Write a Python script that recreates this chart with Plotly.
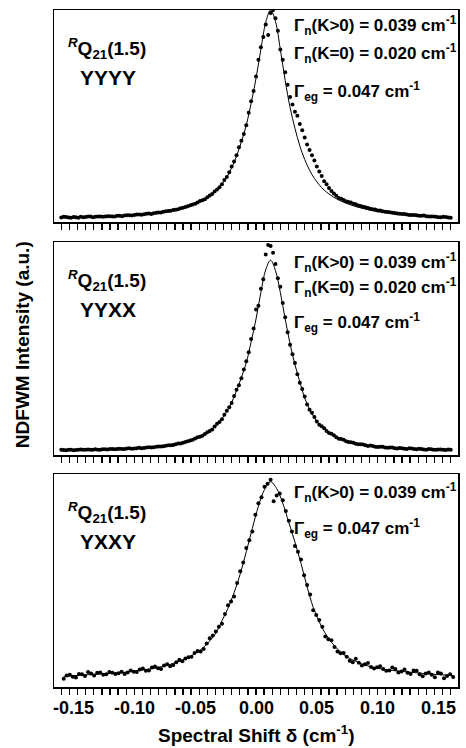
import plotly.graph_objects as go

# ---------------- data ----------------
# fit curves (panels 1 & 2 share the shift grid)
shift_fit12 = [-0.160, -0.156, -0.152, -0.148, -0.144, -0.140, -0.136, -0.132, -0.128, -0.124,
               -0.120, -0.116, -0.112, -0.108, -0.104, -0.100, -0.096, -0.092, -0.088, -0.084,
               -0.080, -0.076, -0.072, -0.068, -0.064, -0.060, -0.056, -0.052, -0.048, -0.044,
               -0.040, -0.036, -0.032, -0.028, -0.024, -0.020, -0.016, -0.012, -0.008, -0.004,
               0.000, 0.004, 0.008, 0.012, 0.016, 0.020, 0.024, 0.028, 0.032, 0.036,
               0.040, 0.044, 0.048, 0.052, 0.056, 0.060, 0.064, 0.068, 0.072, 0.076,
               0.080, 0.084, 0.088, 0.092, 0.096, 0.100, 0.104, 0.108, 0.112, 0.116,
               0.120, 0.124, 0.128, 0.132, 0.136, 0.140, 0.144, 0.148, 0.152, 0.156, 0.160]
yyyy_fit = [0.000, 0.000, 0.001, 0.001, 0.002, 0.002, 0.003, 0.003, 0.004, 0.005,
            0.006, 0.007, 0.008, 0.009, 0.011, 0.012, 0.014, 0.016, 0.019, 0.021,
            0.024, 0.027, 0.031, 0.035, 0.040, 0.046, 0.053, 0.061, 0.071, 0.082,
            0.096, 0.113, 0.134, 0.160, 0.193, 0.240, 0.295, 0.365, 0.445, 0.550,
            0.670, 0.810, 0.940, 1.000, 0.945, 0.810, 0.660, 0.530, 0.430, 0.345,
            0.280, 0.228, 0.188, 0.157, 0.132, 0.113, 0.097, 0.084, 0.073, 0.064,
            0.056, 0.049, 0.043, 0.037, 0.032, 0.028, 0.025, 0.022, 0.019, 0.016,
            0.014, 0.012, 0.010, 0.009, 0.007, 0.006, 0.005, 0.004, 0.003, 0.002, 0.001]
yyxx_fit = [0.000, 0.000, 0.000, 0.001, 0.001, 0.001, 0.002, 0.002, 0.003, 0.003,
            0.004, 0.005, 0.006, 0.007, 0.008, 0.009, 0.011, 0.012, 0.014, 0.016,
            0.018, 0.021, 0.024, 0.028, 0.033, 0.039, 0.046, 0.055, 0.065, 0.077,
            0.092, 0.111, 0.135, 0.165, 0.203, 0.252, 0.312, 0.383, 0.460, 0.570,
            0.690, 0.830, 0.950, 1.000, 0.945, 0.830, 0.690, 0.560, 0.450, 0.360,
            0.275, 0.215, 0.170, 0.137, 0.112, 0.092, 0.076, 0.062, 0.052, 0.044,
            0.037, 0.032, 0.028, 0.024, 0.021, 0.018, 0.016, 0.014, 0.012, 0.010,
            0.009, 0.008, 0.007, 0.006, 0.005, 0.004, 0.003, 0.003, 0.002, 0.001, 0.001]

# measured points, panels 1 & 2: two interleaved sets of shifts
shift_a12 = shift_fit12
shift_b12 = [-0.158, -0.154, -0.150, -0.146, -0.142, -0.138, -0.134, -0.130, -0.126, -0.122,
             -0.118, -0.114, -0.110, -0.106, -0.102, -0.098, -0.094, -0.090, -0.086, -0.082,
             -0.078, -0.074, -0.070, -0.066, -0.062, -0.058, -0.054, -0.050, -0.046, -0.042,
             -0.038, -0.034, -0.030, -0.026, -0.022, -0.018, -0.014, -0.010, -0.006, -0.002,
             0.002, 0.006, 0.010, 0.014, 0.018, 0.022, 0.026, 0.030, 0.034, 0.038,
             0.042, 0.046, 0.050, 0.054, 0.058, 0.062, 0.066, 0.070, 0.074, 0.078,
             0.082, 0.086, 0.090, 0.094, 0.098, 0.102, 0.106, 0.110, 0.114, 0.118,
             0.122, 0.126, 0.130, 0.134, 0.138, 0.142, 0.146, 0.150, 0.154, 0.158]

yyyy_a = [0.000, 0.002, -0.002, 0.001, 0.003, 0.002, 0.004, 0.003, 0.005, 0.004,
          0.006, 0.005, 0.008, 0.009, 0.010, 0.012, 0.014, 0.015, 0.019, 0.020,
          0.024, 0.027, 0.031, 0.036, 0.040, 0.047, 0.054, 0.062, 0.072, 0.083,
          0.097, 0.113, 0.135, 0.160, 0.195, 0.245, 0.300, 0.370, 0.445, 0.560,
          0.680, 0.820, 0.930, 0.985, 0.960, 0.810, 0.700, 0.580, 0.510, 0.450,
          0.385, 0.325, 0.275, 0.222, 0.175, 0.142, 0.115, 0.094, 0.084, 0.075,
          0.066, 0.058, 0.051, 0.046, 0.040, 0.034, 0.030, 0.026, 0.022, 0.019,
          0.016, 0.014, 0.012, 0.010, 0.008, 0.006, 0.004, 0.003, 0.001, 0.002, -0.002]
yyyy_b = [0.003, 0.000, 0.002, -0.001, 0.001, 0.004, 0.001, 0.005, 0.003, 0.006,
          0.004, 0.008, 0.006, 0.011, 0.009, 0.014, 0.013, 0.018, 0.017, 0.023,
          0.024, 0.030, 0.032, 0.037, 0.044, 0.050, 0.059, 0.066, 0.079, 0.088,
          0.106, 0.125, 0.146, 0.180, 0.218, 0.270, 0.338, 0.402, 0.505, 0.610,
          0.760, 0.870, 0.880, 1.000, 0.900, 0.760, 0.640, 0.545, 0.490, 0.420,
          0.352, 0.300, 0.245, 0.200, 0.160, 0.128, 0.105, 0.090, 0.078, 0.072,
          0.063, 0.055, 0.049, 0.042, 0.038, 0.033, 0.027, 0.025, 0.021, 0.018,
          0.016, 0.012, 0.012, 0.008, 0.009, 0.005, 0.005, 0.001, 0.003, 0.000]

yyxx_a = [0.002, -0.001, 0.001, 0.000, 0.003, 0.001, 0.002, 0.004, 0.002, 0.004,
          0.005, 0.004, 0.007, 0.006, 0.009, 0.008, 0.012, 0.011, 0.015, 0.015,
          0.019, 0.020, 0.025, 0.027, 0.034, 0.038, 0.047, 0.054, 0.067, 0.075,
          0.094, 0.108, 0.138, 0.162, 0.207, 0.248, 0.318, 0.378, 0.468, 0.585,
          0.740, 0.850, 1.030, 1.075, 0.980, 0.860, 0.700, 0.555, 0.458, 0.355,
          0.282, 0.212, 0.174, 0.134, 0.115, 0.090, 0.078, 0.060, 0.054, 0.042,
          0.038, 0.030, 0.029, 0.022, 0.022, 0.016, 0.017, 0.012, 0.013, 0.008,
          0.010, 0.006, 0.008, 0.004, 0.006, 0.002, 0.004, 0.001, 0.003, 0.000, 0.002]
yyxx_b = [0.000, 0.002, -0.001, 0.002, 0.001, 0.003, 0.001, 0.002, 0.004, 0.003,
          0.006, 0.005, 0.005, 0.008, 0.007, 0.010, 0.010, 0.014, 0.013, 0.018,
          0.019, 0.023, 0.025, 0.031, 0.035, 0.043, 0.050, 0.061, 0.070, 0.085,
          0.100, 0.124, 0.148, 0.186, 0.226, 0.285, 0.342, 0.425, 0.515, 0.640,
          0.760, 0.900, 1.080, 1.040, 0.905, 0.775, 0.620, 0.505, 0.400, 0.322,
          0.240, 0.196, 0.150, 0.125, 0.100, 0.086, 0.068, 0.058, 0.046, 0.041,
          0.033, 0.031, 0.025, 0.024, 0.018, 0.018, 0.013, 0.014, 0.010, 0.011,
          0.007, 0.009, 0.005, 0.007, 0.003, 0.005, 0.002, 0.003, 0.001, 0.003]

# panel 3
shift_3 = [-0.158, -0.153, -0.148, -0.143, -0.138, -0.133, -0.128, -0.123, -0.118, -0.113,
           -0.108, -0.103, -0.098, -0.093, -0.088, -0.083, -0.078, -0.073, -0.068, -0.063,
           -0.058, -0.053, -0.048, -0.043, -0.038, -0.033, -0.028, -0.023, -0.018, -0.013,
           -0.008, -0.003, 0.002, 0.007, 0.012, 0.017, 0.022, 0.027, 0.032, 0.037,
           0.042, 0.047, 0.052, 0.057, 0.062, 0.067, 0.072, 0.077, 0.082, 0.087,
           0.092, 0.097, 0.102, 0.107, 0.112, 0.117, 0.122, 0.127, 0.132, 0.137,
           0.142, 0.147, 0.152, 0.157, 0.162]
shift_3b = [-0.1555, -0.1505, -0.1455, -0.1405, -0.1355, -0.1305, -0.1255, -0.1205, -0.1155, -0.1105,
            -0.1055, -0.1005, -0.0955, -0.0905, -0.0855, -0.0805, -0.0755, -0.0705, -0.0655, -0.0605,
            -0.0555, -0.0505, -0.0455, -0.0405, -0.0355, -0.0305, -0.0255, -0.0205, -0.0155, -0.0105,
            -0.0055, -0.0005, 0.0045, 0.0095, 0.0145, 0.0195, 0.0245, 0.0295, 0.0345, 0.0395,
            0.0445, 0.0495, 0.0545, 0.0595, 0.0645, 0.0695, 0.0745, 0.0795, 0.0845, 0.0895,
            0.0945, 0.0995, 0.1045, 0.1095, 0.1145, 0.1195, 0.1245, 0.1295, 0.1345, 0.1395,
            0.1445, 0.1495, 0.1545, 0.1595]
yxxy_fit = [0.000, 0.002, 0.004, 0.006, 0.008, 0.010, 0.012, 0.014, 0.016, 0.018,
            0.021, 0.025, 0.029, 0.033, 0.037, 0.042, 0.049, 0.057, 0.066, 0.077,
            0.090, 0.106, 0.125, 0.150, 0.182, 0.222, 0.285, 0.350, 0.430, 0.525,
            0.640, 0.760, 0.875, 0.960, 1.000, 0.965, 0.890, 0.790, 0.690, 0.580,
            0.460, 0.355, 0.280, 0.220, 0.175, 0.140, 0.112, 0.092, 0.077, 0.063,
            0.053, 0.045, 0.039, 0.034, 0.030, 0.027, 0.024, 0.021, 0.018, 0.015,
            0.012, 0.010, 0.008, 0.006, 0.004]
yxxy_a = [-0.012, 0.008, -0.006, 0.010, 0.022, 0.004, 0.020, 0.010, 0.018, 0.016,
          0.012, 0.030, 0.022, 0.040, 0.030, 0.050, 0.038, 0.062, 0.058, 0.085,
          0.092, 0.100, 0.130, 0.140, 0.195, 0.230, 0.270, 0.365, 0.410, 0.540,
          0.660, 0.745, 0.890, 0.975, 1.010, 0.930, 0.905, 0.800, 0.670, 0.600,
          0.470, 0.340, 0.290, 0.205, 0.185, 0.128, 0.120, 0.080, 0.090, 0.055,
          0.068, 0.040, 0.052, 0.028, 0.045, 0.020, 0.035, 0.012, 0.028, 0.000,
          0.020, -0.005, 0.015, 0.002, -0.004]
yxxy_b = [0.004, -0.002, 0.012, 0.002, 0.015, 0.018, 0.008, 0.022, 0.012, 0.024,
          0.020, 0.024, 0.035, 0.028, 0.045, 0.042, 0.055, 0.052, 0.072, 0.078,
          0.098, 0.120, 0.128, 0.168, 0.210, 0.255, 0.320, 0.385, 0.480, 0.585,
          0.700, 0.830, 0.920, 0.990, 0.900, 0.940, 0.850, 0.745, 0.640, 0.520,
          0.420, 0.315, 0.255, 0.190, 0.150, 0.118, 0.100, 0.072, 0.070, 0.062,
          0.048, 0.046, 0.038, 0.030, 0.038, 0.025, 0.018, 0.030, 0.010, 0.015,
          0.008, 0.020, -0.010, 0.010]

tick_vals = [-0.15, -0.10, -0.05, 0.00, 0.05, 0.10, 0.15]
tick_labels = ["-0.15", "-0.10", "-0.05", "0.00", "0.05", "0.10", "0.15"]
minor_step = 1 / 150          # small ticks every 1/150 cm-1

pol_labels = ["YYYY", "YYXX", "YXXY"]
gamma_texts = [
    ["Γ<sub>n</sub>(K&gt;0) = 0.039 cm<sup>-1</sup>",
     "Γ<sub>n</sub>(K=0) = 0.020 cm<sup>-1</sup>",
     "Γ<sub>eg</sub> = 0.047 cm<sup>-1</sup>"],
    ["Γ<sub>n</sub>(K&gt;0) = 0.039 cm<sup>-1</sup>",
     "Γ<sub>n</sub>(K=0) = 0.020 cm<sup>-1</sup>",
     "Γ<sub>eg</sub> = 0.047 cm<sup>-1</sup>"],
    ["Γ<sub>n</sub>(K&gt;0) = 0.039 cm<sup>-1</sup>",
     "Γ<sub>eg</sub> = 0.047 cm<sup>-1</sup>"],
]

# ---------------- layout geometry ----------------
W, H = 466, 748
ML, MR, MT, MB = 54, 6, 10, 61
PW, PH = W - ML - MR, H - MT - MB
panel_px = [(10, 222), (242, 455), (474, 687)]     # top, bottom in pixels
y_ranges = [[-0.022, 1.0], [-0.026, 1.096], [-0.055, 1.04]]
x_range = [-0.166, 0.166]


def py(p):
    return (H - MB - p) / PH


def px(p):
    return (p - ML) / PW


FONT = "Arial, Liberation Sans, sans-serif"
fig = go.Figure()

series = [
    (shift_fit12, yyyy_fit, shift_a12 + shift_b12, yyyy_a + yyyy_b),
    (shift_fit12, yyxx_fit, shift_a12 + shift_b12, yyxx_a + yyxx_b),
    (shift_3, yxxy_fit, shift_3 + shift_3b, yxxy_a + yxxy_b),
]
for i, (xf, yf, xd, yd) in enumerate(series):
    ax = "" if i == 0 else str(i + 1)
    fig.add_trace(go.Scatter(x=xf, y=yf, mode="lines", line=dict(color="black", width=1, shape="spline"),
                             xaxis="x" + ax, yaxis="y" + ax, showlegend=False))
    fig.add_trace(go.Scatter(x=xd, y=yd, mode="markers", marker=dict(color="black", size=4),
                             xaxis="x" + ax, yaxis="y" + ax, showlegend=False))

minor_vals = [k * minor_step for k in range(-24, 25)]
layout = dict(width=W, height=H, margin=dict(l=ML, r=MR, t=MT, b=MB),
              paper_bgcolor="white", plot_bgcolor="white", showlegend=False,
              font=dict(family=FONT, color="black"))
for i, (top, bot) in enumerate(panel_px):
    ax = "" if i == 0 else str(i + 1)
    layout["xaxis" + ax] = dict(domain=[0, 1], range=x_range, anchor="y" + ax,
                                showline=True, mirror=True, linecolor="black", linewidth=1.5,
                                tickmode="array", tickvals=minor_vals, showticklabels=False,
                                ticks="outside", ticklen=6, tickwidth=1.3, tickcolor="black",
                                showgrid=False, zeroline=False)
    layout["yaxis" + ax] = dict(domain=[py(bot), py(top)], range=y_ranges[i], anchor="x" + ax,
                                showline=True, mirror=True, linecolor="black", linewidth=1.5,
                                showticklabels=False, ticks="", showgrid=False, zeroline=False)
fig.update_layout(**layout)

ann = []
for i, (top, bot) in enumerate(panel_px):
    ann.append(dict(text="<b><sup><i>R</i></sup>Q<sub>21</sub>(1.5)</b>", x=px(107), y=py(top + 38),
                    xref="paper", yref="paper", showarrow=False, xanchor="center", yanchor="middle",
                    font=dict(size=19, family=FONT)))
    ann.append(dict(text="<b>" + pol_labels[i] + "</b>", x=px(108), y=py(top + 67),
                    xref="paper", yref="paper", showarrow=False, xanchor="center", yanchor="middle",
                    font=dict(size=21, family=FONT)))
    offs = [16, 44, 81] if len(gamma_texts[i]) == 3 else [19, 54]
    if i == 1:
        offs = [20, 45, 80]
    for t, o in zip(gamma_texts[i], offs):
        ann.append(dict(text="<b>" + t + "</b>", x=px(293), y=py(top + o),
                        xref="paper", yref="paper", showarrow=False, xanchor="left", yanchor="middle",
                        font=dict(size=17, family=FONT)))

for v, lab in zip(tick_vals, tick_labels):
    ann.append(dict(text="<b>" + lab + "</b>", x=v, y=py(708), xref="x3", yref="paper",
                    showarrow=False, xanchor="center", yanchor="middle",
                    font=dict(size=18, family=FONT)))

ann.append(dict(text="<b>Spectral Shift δ (cm<sup>-1</sup>)</b>", x=px(257), y=py(734),
                xref="paper", yref="paper", showarrow=False, xanchor="center", yanchor="middle",
                font=dict(size=19, family=FONT)))
ann.append(dict(text="<b>NDFWM Intensity (a.u.)</b>", x=px(22), y=py(345), textangle=-90,
                xref="paper", yref="paper", showarrow=False, xanchor="center", yanchor="middle",
                font=dict(size=19, family=FONT)))
fig.update_layout(annotations=ann)

fig.write_html("out.html", config={"displayModeBar": False, "staticPlot": True})
# remove the browser's default page margin so the figure sits at the window origin
with open("out.html", encoding="utf-8") as f:
    html = f.read()
html = html.replace("<head>", "<head><style>html,body{margin:0;padding:0;overflow:hidden;}</style>", 1)
with open("out.html", "w", encoding="utf-8") as f:
    f.write(html)
